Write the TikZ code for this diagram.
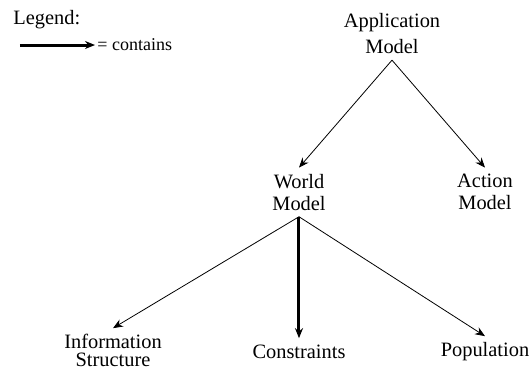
\documentclass[tikz,border=0pt]{standalone}
\usepackage{fontspec}
\setmainfont{Liberation Serif}
\usepackage{tikz}
\usetikzlibrary{arrows.meta}

\begin{document}
\begin{tikzpicture}[->,>={Stealth[length=5pt,width=4pt]},x=0.5pt,y=-0.5pt,grow=down,
                    parent anchor=south,child anchor=north,
                    level 1/.style={level distance=67pt,sibling distance=93pt},
                    level 2/.style={level distance=73pt,sibling distance=93pt}]
  \tikzstyle{every node} = [anchor=north, align=center, inner sep=3pt,
                            font=\fontsize{10.2}{11}\selectfont]
  \tikzstyle{contains} = [line width=1.5pt]
  \useasboundingbox (0,0) rectangle (532,371);
  % legend
  \node [anchor=base west, inner sep=0pt] (legend) at (13,24) {Legend:};
  \coordinate (legstart) at (20,45);
  \node [anchor=west, inner sep=1pt, font=\fontsize{9}{10}\selectfont] (legcontains) at (95,45) {= contains};
  \draw [contains] (legstart) -- (legcontains);
  % model tree
  \node (app) at (392,7) {Application\\[2pt]Model}
    child {
      node (world) {World\\Model}
        child {
          node [yshift=5pt] (info) {Information\\[-2pt]Structure}
        }
        child {
          node (constraints) {Constraints}
          edge from parent [contains]
        }
        child {
          node [yshift=1pt] (population) {Population}
        }
    }
    child {
      node (action) {Action\\Model}
    }
  ;
\end{tikzpicture}
\end{document}
